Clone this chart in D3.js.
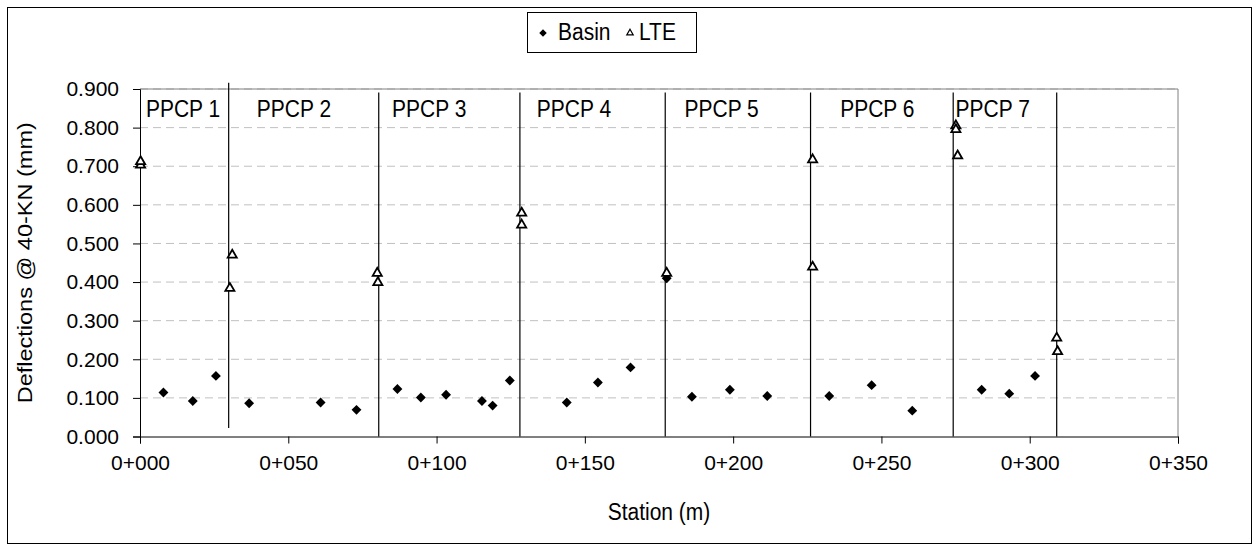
<!DOCTYPE html>
<html>
<head>
<meta charset="utf-8">
<script src="https://cdn.jsdelivr.net/npm/d3@7"></script>
<style>
  body { margin: 0; background: #fff; }
  text { font-family: Arial, "Liberation Sans", sans-serif; }
</style>
</head>
<body>
<script>
const width = 1252;
const height = 544;
const margin = { top: 89, right: 74, bottom: 107.5, left: 140 };

// Basin deflections (filled diamonds)
const basinStations = [7.9, 17.8, 25.6, 36.8, 60.9, 73.0, 86.8, 94.7, 103.2, 115.3, 118.9, 124.7,
    143.9, 154.4, 165.4, 177.6, 186.1, 198.9, 211.5, 232.4, 246.7, 260.4, 283.8, 293.1, 301.8];
const basinValues = [0.114, 0.092, 0.157, 0.086, 0.088, 0.069, 0.123, 0.101, 0.108, 0.092, 0.080, 0.145,
    0.088, 0.140, 0.179, 0.410, 0.103, 0.121, 0.105, 0.105, 0.133, 0.067, 0.121, 0.111, 0.157];

// LTE deflections (open triangles)
const lteStations = [0.2, 0.2, 30.3, 31.1, 80.0, 80.2, 128.7, 128.7, 177.6, 226.8, 226.8, 275.1, 275.1, 275.7, 309.1, 309.4];
const lteValues = [0.703, 0.712, 0.384, 0.470, 0.423, 0.399, 0.579, 0.548, 0.423, 0.717, 0.439, 0.805, 0.795, 0.727, 0.255, 0.220];

// slab boundaries and labels
const boundaryStations = [29.9, 80.5, 128.1, 177.1, 226.1, 274.2, 309.1];
const boundaryTops = [0.916, 0.891, 0.891, 0.891, 0.891, 0.891, 0.891];
const boundaryBottoms = [0.022, 0, 0, 0, 0, 0, 0];
const ppcpLabels = ["PPCP 1", "PPCP 2", "PPCP 3", "PPCP 4", "PPCP 5", "PPCP 6", "PPCP 7"];
const ppcpLabelStations = [2.0, 39.4, 85.0, 133.8, 183.6, 236.1, 275.0];

const xTicks = [0, 50, 100, 150, 200, 250, 300, 350];
const yTicks = [0, 0.1, 0.2, 0.3, 0.4, 0.5, 0.6, 0.7, 0.8, 0.9];

const fontSize = 21;
const stretch = 1.12;

const svg = d3.select("body").append("svg")
    .attr("width", width)
    .attr("height", height);

// outer chart border
svg.append("rect")
    .attr("x", 7.5).attr("y", 7.5)
    .attr("width", width - 8).attr("height", height - 8)
    .attr("fill", "white")
    .attr("stroke", "black")
    .attr("stroke-width", 1);

const x = d3.scaleLinear().domain([0, 350]).range([margin.left, width - margin.right]);
const y = d3.scaleLinear().domain([0, 0.9]).range([height - margin.bottom, margin.top]);

// gridlines
svg.append("g")
    .selectAll("line")
    .data(yTicks.slice(1))
    .enter()
    .append("line")
    .attr("x1", x(0)).attr("x2", x(350))
    .attr("y1", d => y(d)).attr("y2", d => y(d))
    .attr("stroke", "#c0c0c0")
    .attr("stroke-width", 1)
    .attr("stroke-dasharray", "8,5");

// plot area frame (top/right)
svg.append("path")
    .attr("d", `M${x(0)},${y(0.9)}H${x(350)}V${y(0)}`)
    .attr("fill", "none")
    .attr("stroke", "#808080")
    .attr("stroke-width", 1);

// x axis
const xAxis = svg.append("g")
    .attr("transform", `translate(0,${y(0)})`)
    .call(d3.axisBottom(x).tickValues(xTicks).tickSize(7).tickPadding(12)
        .tickFormat(d => "0+" + d3.format("03d")(d)));
xAxis.select(".domain").attr("stroke", "black");
xAxis.selectAll("text")
    .attr("font-size", fontSize)
    .attr("font-family", "Arial, 'Liberation Sans', sans-serif")
    .attr("fill", "black");

// y axis
const yAxis = svg.append("g")
    .attr("transform", `translate(${x(0)},0)`)
    .call(d3.axisLeft(y).tickValues(yTicks).tickSize(7).tickPadding(14)
        .tickFormat(d3.format(".3f")));
yAxis.selectAll("text")
    .attr("font-size", fontSize)
    .attr("font-family", "Arial, 'Liberation Sans', sans-serif")
    .attr("fill", "black");

// vertical boundary lines
svg.append("g")
    .selectAll("line")
    .data(boundaryStations)
    .enter()
    .append("line")
    .attr("x1", d => x(d)).attr("x2", d => x(d))
    .attr("y1", (d, i) => y(boundaryTops[i]))
    .attr("y2", (d, i) => y(boundaryBottoms[i]))
    .attr("stroke", "black")
    .attr("stroke-width", 1.2);

// PPCP labels
svg.append("g")
    .selectAll("text")
    .data(ppcpLabels)
    .enter()
    .append("text")
    .attr("transform", (d, i) => `translate(${x(ppcpLabelStations[i])},117) scale(1,${stretch})`)
    .attr("font-size", fontSize)
    .attr("fill", "black")
    .text(d => d);

// Basin diamonds
const diamond = d3.symbol().type(d3.symbolDiamond2).size(62);
svg.append("g")
    .selectAll("path")
    .data(basinStations)
    .enter()
    .append("path")
    .attr("d", diamond)
    .attr("transform", (d, i) => `translate(${x(d)},${y(basinValues[i])})`)
    .attr("fill", "black");

// LTE triangles
const tri = d3.symbol().type(d3.symbolTriangle).size(36);
svg.append("g")
    .selectAll("path")
    .data(lteStations)
    .enter()
    .append("path")
    .attr("d", tri)
    .attr("transform", (d, i) => `translate(${x(d)},${y(lteValues[i])})`)
    .attr("fill", "white")
    .attr("stroke", "black")
    .attr("stroke-width", 1.8);

// axis titles
svg.append("text")
    .attr("transform", `translate(${(x(0) + x(350)) / 2},520) scale(1,${stretch})`)
    .attr("text-anchor", "middle")
    .attr("font-size", fontSize)
    .text("Station (m)");

svg.append("text")
    .attr("transform", `translate(32,${(y(0) + y(0.9)) / 2}) scale(1,${stretch}) rotate(-90)`)
    .attr("text-anchor", "middle")
    .attr("font-size", fontSize)
    .text("Deflections @ 40-KN (mm)");

// legend
const legend = svg.append("g");
legend.append("rect")
    .attr("x", 527.5).attr("y", 12.5)
    .attr("width", 169).attr("height", 40)
    .attr("fill", "white")
    .attr("stroke", "black");
legend.append("path")
    .attr("d", d3.symbol().type(d3.symbolDiamond2).size(36))
    .attr("transform", "translate(543,33)")
    .attr("fill", "black");
legend.append("text")
    .attr("transform", `translate(558,40) scale(1,${stretch})`)
    .attr("font-size", fontSize)
    .text("Basin");
legend.append("path")
    .attr("d", d3.symbol().type(d3.symbolTriangle).size(18))
    .attr("transform", "translate(630,33)")
    .attr("fill", "white")
    .attr("stroke", "black")
    .attr("stroke-width", 1.2);
legend.append("text")
    .attr("transform", `translate(639,40) scale(1,${stretch})`)
    .attr("font-size", fontSize)
    .text("LTE");
</script>
</body>
</html>
